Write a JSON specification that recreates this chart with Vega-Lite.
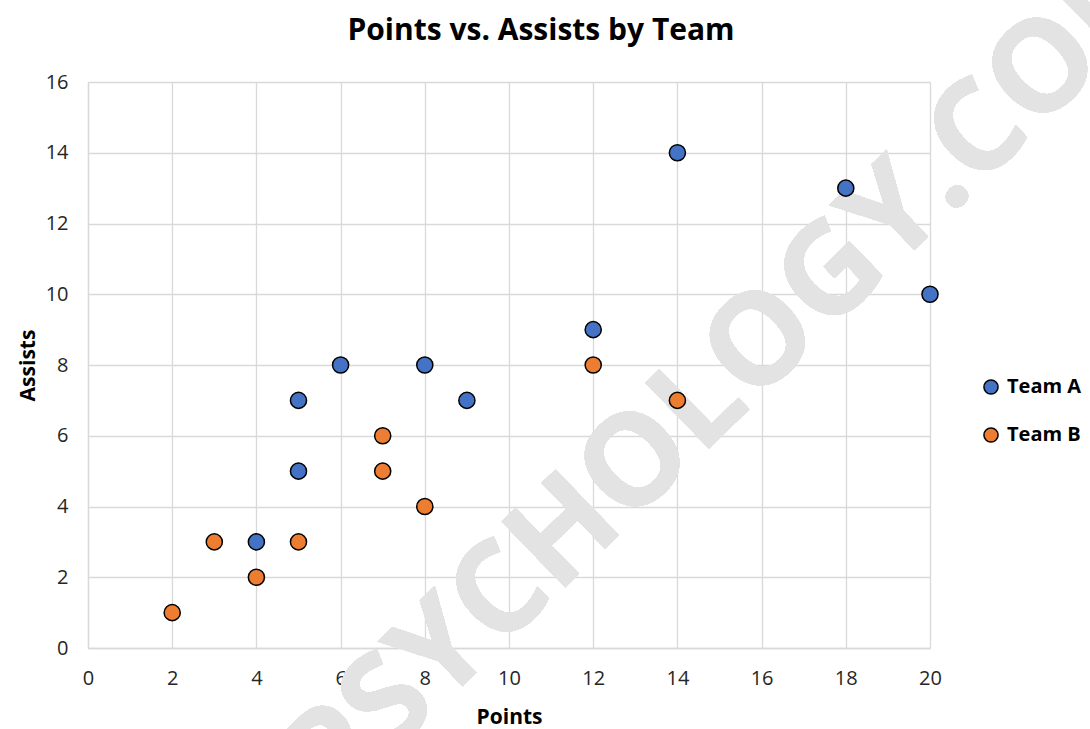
{
  "$schema": "https://vega.github.io/schema/vega-lite/v6.json",
  "width": 842,
  "height": 566,
  "autosize": {"type": "none"},
  "padding": {"left": 88, "top": 82, "right": 160, "bottom": 81},
  "background": "white",
  "title": {
    "text": "Points vs. Assists by Team",
    "font": "Open Sans",
    "fontSize": 30,
    "fontWeight": "bold",
    "color": "#000000",
    "anchor": "middle",
    "frame": "group",
    "offset": -140,
    "dx": 32
  },
  "config": {
    "view": {"stroke": null},
    "axis": {
      "labelFont": "Open Sans",
      "titleFont": "Open Sans",
      "labelFontSize": 20,
      "labelColor": "#262626",
      "titleFontSize": 21,
      "titleFontWeight": "bold",
      "titleColor": "#000000",
      "grid": true,
      "gridColor": "#d9d9d9",
      "gridWidth": 1.3,
      "domainColor": "#d9d9d9",
      "domainWidth": 1.3,
      "ticks": false,
      "labelFlush": false
    },
    "legend": {
      "labelFont": "Open Sans",
      "labelFontSize": 20,
      "labelFontWeight": "bold",
      "labelColor": "#000000"
    }
  },
  "data": {
    "values": [
      {"team": "Team A", "points": 4, "assists": 3},
      {"team": "Team A", "points": 5, "assists": 5},
      {"team": "Team A", "points": 5, "assists": 7},
      {"team": "Team A", "points": 6, "assists": 8},
      {"team": "Team A", "points": 8, "assists": 8},
      {"team": "Team A", "points": 9, "assists": 7},
      {"team": "Team A", "points": 12, "assists": 9},
      {"team": "Team A", "points": 14, "assists": 14},
      {"team": "Team A", "points": 18, "assists": 13},
      {"team": "Team A", "points": 20, "assists": 10},
      {"team": "Team B", "points": 2, "assists": 1},
      {"team": "Team B", "points": 3, "assists": 3},
      {"team": "Team B", "points": 4, "assists": 2},
      {"team": "Team B", "points": 5, "assists": 3},
      {"team": "Team B", "points": 7, "assists": 6},
      {"team": "Team B", "points": 7, "assists": 5},
      {"team": "Team B", "points": 8, "assists": 4},
      {"team": "Team B", "points": 12, "assists": 8},
      {"team": "Team B", "points": 14, "assists": 7}
    ]
  },
  "layer": [
    {
      "mark": {
        "type": "text",
        "text": "PSYCHOLOGY.COM",
        "font": "Open Sans",
        "fontSize": 128,
        "fontWeight": "bold",
        "angle": -44,
        "color": "#e3e3e3",
        "align": "center",
        "baseline": "middle"
      },
      "encoding": {
        "x": {"datum": 15.42},
        "y": {"datum": 7.91}
      }
    },
    {
      "mark": {"type": "point", "filled": true, "shape": "circle", "size": 260, "stroke": "#000000", "strokeWidth": 1.5, "opacity": 1},
      "encoding": {
        "x": {
          "field": "points",
          "type": "quantitative",
          "scale": {"domain": [0, 20], "nice": false},
          "axis": {"values": [0, 2, 4, 6, 8, 10, 12, 14, 16, 18, 20], "title": "Points", "labelPadding": 20, "titlePadding": 18, "grid": true}
        },
        "y": {
          "field": "assists",
          "type": "quantitative",
          "scale": {"domain": [0, 16], "nice": false},
          "axis": {"values": [0, 2, 4, 6, 8, 10, 12, 14, 16], "title": "Assists", "labelPadding": 20, "titlePadding": 7, "grid": true}
        },
        "fill": {
          "field": "team",
          "type": "nominal",
          "scale": {"domain": ["Team A", "Team B"], "range": ["#4472C4", "#ED7D31"]},
          "legend": {
            "title": null,
            "orient": "none",
            "legendX": 893,
            "legendY": 295,
            "symbolType": "circle",
            "symbolSize": 200,
            "symbolStrokeColor": "#000000",
            "symbolStrokeWidth": 1.5,
            "rowPadding": 26,
            "labelOffset": 6
          }
        },
        "stroke": {"value": "#000000"}
      }
    }
  ]
}
